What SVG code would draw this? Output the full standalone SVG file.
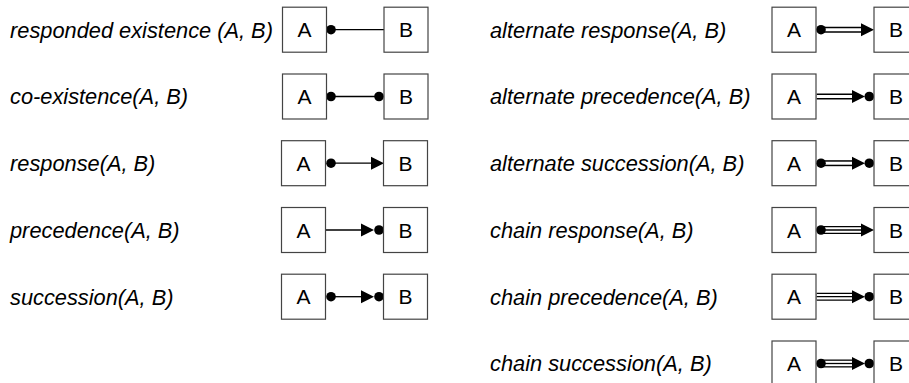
<svg xmlns="http://www.w3.org/2000/svg" xmlns:xlink="http://www.w3.org/1999/xlink" width="909" height="383" viewBox="0 0 909 383">
<style>
.lbl{font-family:"Liberation Sans",Arial,sans-serif;font-style:italic;font-size:21.8px;fill:#000}
.box{fill:#fff;stroke:#444;stroke-width:1.2}
.bt{font-family:"Liberation Sans",Arial,sans-serif;font-size:21px;fill:#000;text-anchor:middle}
.ln{stroke:#000;stroke-width:1.3;fill:none}
.dbo{stroke:#000;stroke-width:6;fill:none}
.dbi{stroke:#fff;stroke-width:3;fill:none}
.tro{stroke:#000;stroke-width:8;fill:none}
.tri2{stroke:#fff;stroke-width:5.4;fill:none}
.trc{stroke:#000;stroke-width:1.3;fill:none}
</style>
<defs>
<circle id="dot" cx="0" cy="0" r="4.8" fill="#000"/>
<polygon id="arr" points="0,-6.5 13,0 0,6.5" fill="#000"/>
</defs>
<rect width="909" height="383" fill="#fff"/>

<g id="labels">
<text class="lbl" x="10" y="37.5">responded existence (A, B)</text>
<text class="lbl" x="10" y="104.3">co-existence(A, B)</text>
<text class="lbl" x="10" y="171">response(A, B)</text>
<text class="lbl" x="10" y="237.8">precedence(A, B)</text>
<text class="lbl" x="10" y="304.5">succession(A, B)</text>
<text class="lbl" x="490" y="37.5">alternate response(A, B)</text>
<text class="lbl" x="490" y="104.3">alternate precedence(A, B)</text>
<text class="lbl" x="490" y="171">alternate succession(A, B)</text>
<text class="lbl" x="490" y="237.8">chain response(A, B)</text>
<text class="lbl" x="490" y="304.5">chain precedence(A, B)</text>
<text class="lbl" x="490" y="371.3">chain succession(A, B)</text>
</g>

<g id="connectors">
<line class="ln" x1="331" y1="29.7" x2="384" y2="29.7"/>
<use xlink:href="#dot" x="331" y="29.7"/>

<line class="ln" x1="331" y1="96.5" x2="379" y2="96.5"/>
<use xlink:href="#dot" x="331" y="96.5"/>
<use xlink:href="#dot" x="379" y="96.5"/>

<line class="ln" x1="331" y1="163.2" x2="372" y2="163.2"/>
<use xlink:href="#dot" x="331" y="163.2"/>
<use xlink:href="#arr" x="371" y="163.2"/>

<line class="ln" x1="326" y1="230" x2="362" y2="230"/>
<use xlink:href="#arr" x="361" y="230"/>
<use xlink:href="#dot" x="379" y="230"/>

<line class="ln" x1="331" y1="296.7" x2="362" y2="296.7"/>
<use xlink:href="#dot" x="331" y="296.7"/>
<use xlink:href="#arr" x="361" y="296.7"/>
<use xlink:href="#dot" x="379" y="296.7"/>

<line class="dbo" x1="821" y1="29.7" x2="862" y2="29.7"/>
<line class="dbi" x1="821" y1="29.7" x2="862" y2="29.7"/>
<use xlink:href="#dot" x="821" y="29.7"/>
<use xlink:href="#arr" x="861" y="29.7"/>

<line class="dbo" x1="816.6" y1="96.5" x2="853" y2="96.5"/>
<line class="dbi" x1="816.6" y1="96.5" x2="853" y2="96.5"/>
<use xlink:href="#arr" x="852" y="96.5"/>
<use xlink:href="#dot" x="869.3" y="96.5"/>

<line class="dbo" x1="821" y1="163.2" x2="853" y2="163.2"/>
<line class="dbi" x1="821" y1="163.2" x2="853" y2="163.2"/>
<use xlink:href="#dot" x="821" y="163.2"/>
<use xlink:href="#arr" x="852" y="163.2"/>
<use xlink:href="#dot" x="869.3" y="163.2"/>

<line class="tro" x1="821" y1="230" x2="862" y2="230"/>
<line class="tri2" x1="821" y1="230" x2="862" y2="230"/>
<line class="trc" x1="821" y1="230" x2="862" y2="230"/>
<use xlink:href="#dot" x="821" y="230"/>
<use xlink:href="#arr" x="861" y="230"/>

<line class="tro" x1="816.6" y1="296.7" x2="853" y2="296.7"/>
<line class="tri2" x1="816.6" y1="296.7" x2="853" y2="296.7"/>
<line class="trc" x1="816.6" y1="296.7" x2="853" y2="296.7"/>
<use xlink:href="#arr" x="852" y="296.7"/>
<use xlink:href="#dot" x="869.3" y="296.7"/>

<line class="tro" x1="821" y1="363.5" x2="853" y2="363.5"/>
<line class="tri2" x1="821" y1="363.5" x2="853" y2="363.5"/>
<line class="trc" x1="821" y1="363.5" x2="853" y2="363.5"/>
<use xlink:href="#dot" x="821" y="363.5"/>
<use xlink:href="#arr" x="852" y="363.5"/>
<use xlink:href="#dot" x="869.3" y="363.5"/>
</g>

<g id="L1A"><rect class="box" x="282.5" y="7.2" width="44" height="45"/><text class="bt" x="304.5" y="37">A</text></g>
<g id="L1B"><rect class="box" x="384" y="7.2" width="44" height="45"/><text class="bt" x="406" y="37">B</text></g>
<g id="L2A"><rect class="box" x="282.5" y="74" width="44" height="45"/><text class="bt" x="304.5" y="104">A</text></g>
<g id="L2B"><rect class="box" x="384" y="74" width="44" height="45"/><text class="bt" x="406" y="104">B</text></g>
<g id="L3A"><rect class="box" x="281.5" y="140.7" width="44" height="45"/><text class="bt" x="303.5" y="170.7">A</text></g>
<g id="L3B"><rect class="box" x="383.5" y="140.7" width="44" height="45"/><text class="bt" x="405.5" y="170.7">B</text></g>
<g id="L4A"><rect class="box" x="281.5" y="207.5" width="44" height="45"/><text class="bt" x="303.5" y="237.5">A</text></g>
<g id="L4B"><rect class="box" x="383.5" y="207.5" width="44" height="45"/><text class="bt" x="405.5" y="237.5">B</text></g>
<g id="L5A"><rect class="box" x="281.5" y="274.2" width="44" height="45"/><text class="bt" x="303.5" y="304.2">A</text></g>
<g id="L5B"><rect class="box" x="383.5" y="274.2" width="44" height="45"/><text class="bt" x="405.5" y="304.2">B</text></g>

<g id="R1A"><rect class="box" x="772" y="7.2" width="44" height="45"/><text class="bt" x="794" y="37">A</text></g>
<g id="R1B"><rect class="box" x="874" y="7.2" width="44" height="45"/><text class="bt" x="896" y="37">B</text></g>
<g id="R2A"><rect class="box" x="772" y="74" width="44" height="45"/><text class="bt" x="794" y="104">A</text></g>
<g id="R2B"><rect class="box" x="874" y="74" width="44" height="45"/><text class="bt" x="896" y="104">B</text></g>
<g id="R3A"><rect class="box" x="772" y="140.7" width="44" height="45"/><text class="bt" x="794" y="170.7">A</text></g>
<g id="R3B"><rect class="box" x="874" y="140.7" width="44" height="45"/><text class="bt" x="896" y="170.7">B</text></g>
<g id="R4A"><rect class="box" x="772" y="207.5" width="44" height="45"/><text class="bt" x="794" y="237.5">A</text></g>
<g id="R4B"><rect class="box" x="874" y="207.5" width="44" height="45"/><text class="bt" x="896" y="237.5">B</text></g>
<g id="R5A"><rect class="box" x="772" y="274.2" width="44" height="45"/><text class="bt" x="794" y="304.2">A</text></g>
<g id="R5B"><rect class="box" x="874" y="274.2" width="44" height="45"/><text class="bt" x="896" y="304.2">B</text></g>
<g id="R6A"><rect class="box" x="772" y="341" width="44" height="45"/><text class="bt" x="794" y="371">A</text></g>
<g id="R6B"><rect class="box" x="874" y="341" width="44" height="45"/><text class="bt" x="896" y="371">B</text></g>
</svg>
